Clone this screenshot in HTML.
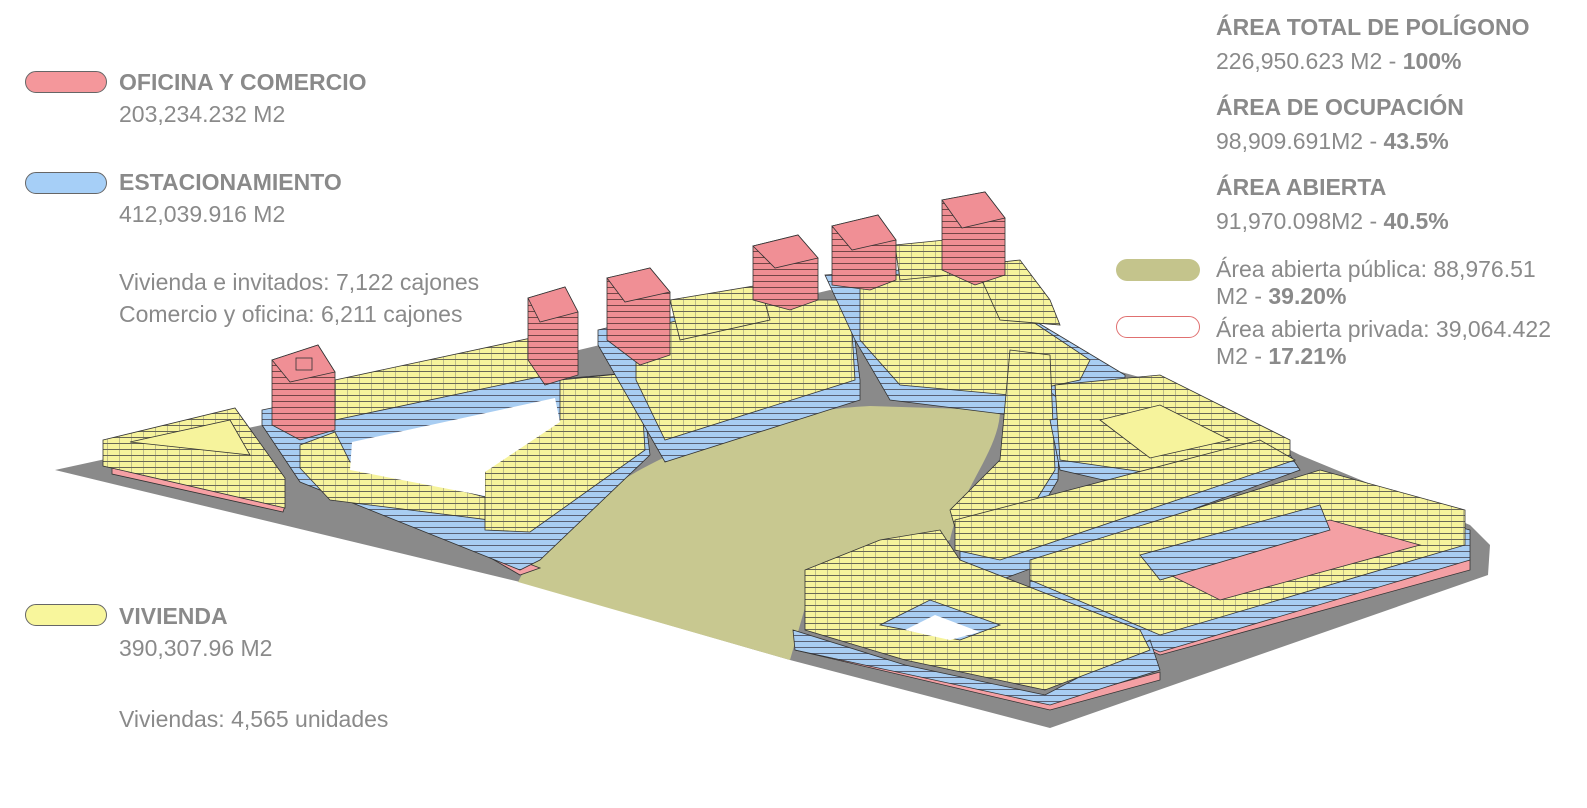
<!DOCTYPE html>
<html><head><meta charset="utf-8"><style>
body{margin:0;background:#fff;width:1587px;height:808px;overflow:hidden;position:relative;font-family:"Liberation Sans",sans-serif;color:#8a8a8a}
.t{position:absolute;white-space:nowrap;line-height:1}
.h{font-weight:bold;font-size:23px}
.v{font-size:23px}
.sw{position:absolute;width:82px;height:22px;border-radius:11px;border:1px solid #666;box-sizing:border-box}
</style></head><body>
<svg width="1587" height="808" style="position:absolute;left:0;top:0">
<defs>
<pattern id="y" width="12" height="6" patternUnits="userSpaceOnUse"><rect width="12" height="6" fill="#f6f39c"/><line x1="0" y1="5.5" x2="12" y2="5.5" stroke="#444" stroke-width="0.8"/><line x1="11.5" y1="0" x2="11.5" y2="6" stroke="#666" stroke-width="0.4"/></pattern>
<pattern id="b" width="12" height="6" patternUnits="userSpaceOnUse"><rect width="12" height="6" fill="#a8cdf2"/><line x1="0" y1="5.5" x2="12" y2="5.5" stroke="#445" stroke-width="0.8"/></pattern>
<pattern id="r" width="12" height="6" patternUnits="userSpaceOnUse"><rect width="12" height="6" fill="#ef8e93"/><line x1="0" y1="5.5" x2="12" y2="5.5" stroke="#533" stroke-width="0.8"/></pattern>
</defs>
<g stroke="#333" stroke-width="0.8">
<polygon fill="#8a8a8a" stroke="none" points="55,470 262,425 600,345 830,290 1150,380 1300,455 1470,525 1490,545 1488,575 1050,728 790,660 520,582"/>
<path fill="#c8c890" stroke="none" d="M518,582 C560,500 700,415 870,406 L1000,410 C1000,450 960,490 950,540 L810,590 L790,660 Z"/>
<polygon fill="#f6a0a4" points="112,468 285,506 283,512 112,474"/>
<polygon fill="url(#y)" points="103,440 235,408 285,478 285,508 103,466"/>
<polygon fill="#f6f39c" points="130,442 230,420 250,455"/>
<polygon fill="#f4a0a4" points="262,425 520,575 540,568 300,478"/>
<polygon fill="url(#b)" points="262,410 335,395 545,350 548,380 640,372 650,455 540,560 520,570 300,482 262,425"/>
<polygon fill="url(#y)" points="335,380 545,335 548,375 335,420"/>
<polygon fill="url(#y)" points="300,445 335,432 350,462 485,497 490,520 330,500 300,468"/>
<polygon fill="url(#y)" points="485,470 560,420 560,380 640,372 645,450 530,532 485,530"/>
<polygon fill="#fff" stroke="none" points="350,470 352,442 555,398 560,422 485,472 485,496"/>
<polygon fill="url(#b)" points="598,330 640,320 850,300 860,380 860,400 665,462 598,345"/>
<polygon fill="url(#y)" points="636,330 770,300 850,300 855,380 665,440 636,380"/>
<polygon fill="url(#y)" points="670,300 760,285 770,320 680,340"/>
<polygon fill="url(#b)" points="825,275 900,270 1000,300 1125,375 1125,400 1010,415 890,400 855,340"/>
<polygon fill="url(#y)" points="860,280 960,265 1030,320 1090,360 1080,380 1010,395 900,385 860,340"/>
<polygon fill="url(#y)" points="895,245 945,240 950,275 900,280"/>
<polygon fill="url(#y)" points="975,265 1020,260 1050,300 1060,325 1000,320"/>
<polygon fill="url(#b)" points="1035,380 1060,400 1058,480 1040,510 1000,540 990,525"/>
<polygon fill="url(#y)" points="1010,350 1050,355 1055,470 1030,510 960,545 950,510 1000,460"/>
<polygon fill="url(#b)" points="1050,420 1150,400 1240,440 1290,460 1190,500 1060,470"/>
<polygon fill="url(#y)" points="1055,385 1160,375 1290,440 1290,470 1200,480 1060,460"/>
<polygon fill="#f6f39c" points="1100,420 1160,405 1230,440 1150,458"/>
<polygon fill="url(#b)" points="960,540 1290,455 1300,470 1000,580 960,570"/>
<polygon fill="url(#y)" points="955,520 1260,440 1295,460 1000,560 955,550"/>
<polygon fill="#f4a0a4" points="1040,590 1160,640 1470,560 1470,570 1160,655 1040,600"/>
<polygon fill="url(#b)" points="1030,580 1320,490 1470,530 1470,560 1160,652 1030,598"/>
<polygon fill="url(#y)" points="1030,560 1320,470 1465,510 1465,545 1160,635 1030,580"/>
<polygon fill="#f4a0a4" points="1160,570 1330,520 1420,545 1220,600"/>
<polygon fill="url(#b)" points="1140,555 1320,505 1330,530 1160,580"/>
<polygon fill="#f4a0a4" points="795,650 1050,710 1160,680 1160,672 1050,702 795,642"/>
<polygon fill="url(#b)" points="793,630 905,665 1045,695 1150,640 1160,670 1050,705 795,650"/>
<polygon fill="url(#y)" points="805,570 880,540 940,530 960,560 1140,630 1150,650 1045,690 905,660 805,630"/>
<polygon fill="url(#b)" points="880,625 930,600 1000,625 960,640"/>
<polygon fill="#fff" stroke="none" points="905,630 935,615 980,632 950,640"/>
<g>
<polygon fill="url(#r)" points="272,360 318,345 335,372 335,430 300,440 272,425"/>
<polygon fill="#f08f95" points="272,360 318,345 335,372 290,382"/>
<rect x="296" y="358" width="16" height="12" fill="#f08f95"/>
<polygon fill="url(#r)" points="528,298 565,287 578,312 578,375 545,385 528,360"/>
<polygon fill="#f08f95" points="528,298 565,287 578,312 540,322"/>
<polygon fill="url(#r)" points="607,278 650,268 670,292 670,355 640,365 607,340"/>
<polygon fill="#f08f95" points="607,278 650,268 670,292 625,302"/>
<polygon fill="url(#r)" points="753,246 798,235 818,258 818,300 790,310 753,300"/>
<polygon fill="#f08f95" points="753,246 798,235 818,258 775,268"/>
<polygon fill="url(#r)" points="832,226 878,215 896,240 896,280 870,290 832,285"/>
<polygon fill="#f08f95" points="832,226 878,215 896,240 852,250"/>
<polygon fill="url(#r)" points="942,200 985,192 1005,218 1005,275 975,285 942,270"/>
<polygon fill="#f08f95" points="942,200 985,192 1005,218 962,228"/>
</g>
</g>
</svg>
<div class="sw" style="left:25px;top:71px;background:#f4979b"></div>
<div class="t h" style="left:119px;top:71px">OFICINA Y COMERCIO</div>
<div class="t v" style="left:119px;top:103px">203,234.232 M2</div>
<div class="sw" style="left:25px;top:172px;background:#a6cff7"></div>
<div class="t h" style="left:119px;top:171px">ESTACIONAMIENTO</div>
<div class="t v" style="left:119px;top:203px">412,039.916 M2</div>
<div class="t v" style="left:119px;top:271px">Vivienda e invitados: 7,122 cajones</div>
<div class="t v" style="left:119px;top:303px">Comercio y oficina: 6,211 cajones</div>
<div class="sw" style="left:25px;top:604px;background:#f8f69c"></div>
<div class="t h" style="left:119px;top:605px">VIVIENDA</div>
<div class="t v" style="left:119px;top:637px">390,307.96 M2</div>
<div class="t v" style="left:119px;top:708px">Viviendas: 4,565 unidades</div>
<div class="t h" style="left:1216px;top:16px">ÁREA TOTAL DE POLÍGONO</div>
<div class="t v" style="left:1216px;top:50px">226,950.623 M2 - <b>100%</b></div>
<div class="t h" style="left:1216px;top:96px">ÁREA DE OCUPACIÓN</div>
<div class="t v" style="left:1216px;top:130px">98,909.691M2 - <b>43.5%</b></div>
<div class="t h" style="left:1216px;top:176px">ÁREA ABIERTA</div>
<div class="t v" style="left:1216px;top:210px">91,970.098M2 - <b>40.5%</b></div>
<div class="sw" style="left:1116px;top:259px;width:84px;background:#c4c48c;border:none"></div>
<div class="t v" style="left:1216px;top:258px">Área abierta pública: 88,976.51</div>
<div class="t v" style="left:1216px;top:285px">M2 - <b>39.20%</b></div>
<div class="sw" style="left:1116px;top:316px;width:84px;background:#fff;border:1px solid #e07070"></div>
<div class="t v" style="left:1216px;top:318px">Área abierta privada: 39,064.422</div>
<div class="t v" style="left:1216px;top:345px">M2 - <b>17.21%</b></div>
</body></html>
